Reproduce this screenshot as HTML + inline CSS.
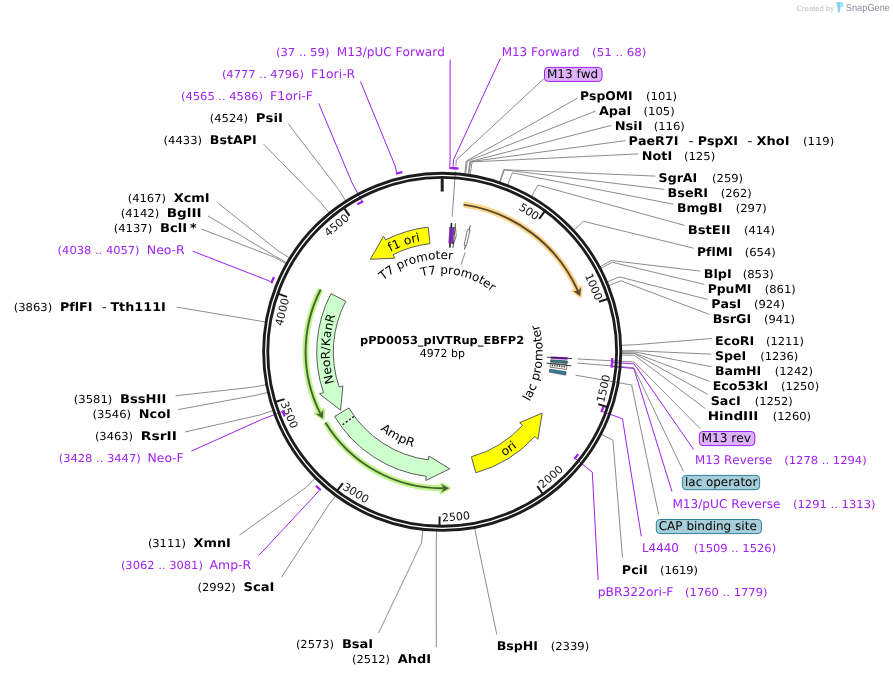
<!DOCTYPE html>
<html lang="en"><head><meta charset="utf-8"><title>pPD0053_pIVTRup_EBFP2 map</title>
<style>html,body{margin:0;padding:0;background:#fff;overflow:hidden}svg{display:block;will-change:transform;font-variant-ligatures:none;font-kerning:none}</style>
</head><body>
<svg width="894" height="677" viewBox="0 0 894 677" font-family="'DejaVu Sans', Verdana, 'Liberation Sans', sans-serif" text-rendering="geometricPrecision">
<rect width="894" height="677" fill="#fff"/>
<path d="M464.52 175.3 L466.32 161.07 L577.75 98 M465.41 175.42 L467.28 161.19 L595.6 111.1 M467.86 175.76 L469.93 161.56 L611.4 125.4 M468.53 175.86 L470.65 161.67 L625.5 140.6 M469.86 176.06 L472.09 161.89 L638.4 153.9 M499.09 183.24 L503.68 169.64 L655.4 176.1 M499.73 183.46 L504.37 169.88 L664.3 189.4 M507.12 186.16 L512.35 172.8 L673.3 204.2 M530.82 197.54 L537.96 185.09 L684.6 225.4 M572.86 231.05 L583.4 221.3 L693.6 248.2 M598.81 267.36 L611.44 260.54 L700.2 271.1 M599.66 268.95 L612.36 262.26 L704.4 284.4 M606.06 282.46 L619.28 276.86 L707.5 299.4 M607.56 286.1 L620.89 280.79 L709.5 314.5 M620.03 345.33 L634.37 344.8 L711.5 338.5 M620.15 350.79 L634.5 350.71 L711.5 354.2 M620.15 351.89 L634.5 351.9 L711.5 366.8 M620.15 353 L634.5 353.09 L709.5 381.3 M620.14 353.47 L634.49 353.6 L707.5 394.3 M620.12 355.04 L634.47 355.3 L705.3 408.6 M600.23 433.66 L612.97 440.25 L622.5 557.8 M474.51 526.84 L477.12 540.95 L496.8 634.4 M346.47 201.85 L338.75 189.75 L288 123.4 M329.89 213.82 L320.83 202.69 L263.7 144.2 M290.64 258.59 L278.42 251.07 L218 203.1 M287.77 263.43 L275.32 256.3 L208 215.9 M287.22 264.4 L274.72 257.35 L201.5 229 M266.74 322.19 L252.59 319.8 L176.6 307.1 M267.27 384.5 L253.16 387.13 L175.6 395.8 M268.88 392.2 L254.91 395.45 L178.1 409.6 M274.06 410.12 L260.5 414.82 L184.9 432 M316.05 477.36 L305.88 487.48 L239.5 535.1 M336.28 494.84 L327.74 506.37 L281.4 577.4 M423.01 528.76 L421.46 543.03 L378.5 633.1 M436.69 529.71 L436.25 544.06 L436.3 647 M543.6 78.9 L456.28 160.07 L455.86 165.75 M455.45 171.34 L452.12 216.71 M700.4 428.9 L634.24 361.93 L577.51 358.95 M683.4 471.3 L633.84 367.75 L577.24 363.05 M658.6 514.4 L631.63 384.98 L575.67 375.19 M465.2 252.3 L461 264.9" fill="none" stroke="#7f7f7f" stroke-width="0.9"/>
<path d="M453.07 166.77 L453.47 159.88 L500.4 58.4 M613.07 362.55 L634.12 363.87 L693.7 449.6 M612.76 366.65 L633.78 368.48 L672 491.6 M602.68 411.48 L622.46 418.82 L641.3 536.4 M575.81 458.89 L592.28 472.09 L598.1 579.9 M449.79 166.61 L450.07 159.71 L450.1 59.6 M396.63 172.14 L394.94 165.45 L360.5 81.5 M361.68 200.77 L351.75 182.15 L318.7 103.3 M270.62 281.6 L264.24 278.99 L192.5 251.1 M281.87 411.88 L262.11 419.28 L191.4 451.1 M319.12 490.5 L314.53 495.66 L259 555.3" fill="none" stroke="#a020f0" stroke-width="1"/>
<circle cx="442.2" cy="351.85" r="178.58" fill="none" stroke="#1c1c1c" stroke-width="2.85"/>
<circle cx="442.2" cy="351.85" r="174.42" fill="none" stroke="#1c1c1c" stroke-width="2.85"/>
<path d="M544.47 211.57 L539.17 218.84 M607.58 299.06 L599.01 301.8 M606.83 406.93 L598.29 404.08 M542.51 493.54 L537.31 486.19 M439.46 525.43 L439.6 516.43 M337.46 490.3 L342.89 483.12 M275.91 401.71 L284.53 399.12 M278.57 293.86 L287.05 296.87 M344.41 208.41 L349.48 215.85" stroke="#1c1c1c" stroke-width="2" fill="none"/>
<path d="M442.2 178.25 L442.2 191.55" stroke="#202020" stroke-width="3" fill="none"/>
<text transform="translate(529.24 211.44) rotate(31.79)" x="-10.5" y="4" font-size="11" fill="#111" textLength="21" lengthAdjust="spacingAndGlyphs">500</text>
<text transform="translate(594.02 286.72) rotate(66.78)" x="-14" y="4" font-size="11" fill="#111" textLength="28" lengthAdjust="spacingAndGlyphs">1000</text>
<text transform="translate(603.29 388.48) rotate(282.81)" x="-14" y="4" font-size="11" fill="#111" textLength="28" lengthAdjust="spacingAndGlyphs">1500</text>
<text transform="translate(550.55 476.56) rotate(319.01)" x="-14" y="4" font-size="11" fill="#111" textLength="28" lengthAdjust="spacingAndGlyphs">2000</text>
<text transform="translate(455.97 516.47) rotate(355.22)" x="-14" y="4" font-size="11" fill="#111" textLength="28" lengthAdjust="spacingAndGlyphs">2500</text>
<text transform="translate(356.08 492.83) rotate(391.42)" x="-14" y="4" font-size="11" fill="#111" textLength="28" lengthAdjust="spacingAndGlyphs">3000</text>
<text transform="translate(289.44 414.74) rotate(427.62)" x="-14" y="4" font-size="11" fill="#111" textLength="28" lengthAdjust="spacingAndGlyphs">3500</text>
<text transform="translate(281.91 311.89) rotate(284)" x="-14" y="4" font-size="11" fill="#111" textLength="28" lengthAdjust="spacingAndGlyphs">4000</text>
<text transform="translate(336.46 224.93) rotate(320.2)" x="-14" y="4" font-size="11" fill="#111" textLength="28" lengthAdjust="spacingAndGlyphs">4500</text>
<path d="M452.61 168.04 A184.1 184.1 0 0 1 458.75 168.5" fill="none" stroke="#a020f0" stroke-width="2.25"/>
<path d="M612.29 357.95 A170.2 170.2 0 0 1 611.99 363.59" fill="none" stroke="#a020f0" stroke-width="2.25"/>
<path d="M612.17 360.75 A170.2 170.2 0 0 1 611.66 367.66" fill="none" stroke="#a020f0" stroke-width="2.25"/>
<path d="M603.34 406.65 A170.2 170.2 0 0 1 601.36 412.16" fill="none" stroke="#a020f0" stroke-width="2.25"/>
<path d="M578.21 454.17 A170.2 170.2 0 0 1 574.34 459.12" fill="none" stroke="#a020f0" stroke-width="2.25"/>
<path d="M449.36 167.89 A184.1 184.1 0 0 1 456.66 168.32" fill="none" stroke="#a020f0" stroke-width="2.25"/>
<path d="M395.89 173.67 A184.1 184.1 0 0 1 402.32 172.12" fill="none" stroke="#a020f0" stroke-width="2.25"/>
<path d="M357.23 204.38 A170.2 170.2 0 0 1 363.12 201.14" fill="none" stroke="#a020f0" stroke-width="2.25"/>
<path d="M271.41 283.12 A184.1 184.1 0 0 1 273.99 277.02" fill="none" stroke="#a020f0" stroke-width="2.25"/>
<path d="M284.7 416.36 A170.2 170.2 0 0 1 282.42 410.5" fill="none" stroke="#a020f0" stroke-width="2.25"/>
<path d="M320.8 490.25 A184.1 184.1 0 0 1 315.91 485.8" fill="none" stroke="#a020f0" stroke-width="2.25"/>
<path d="M430.06 243.63 A108.9 108.9 0 0 0 393 254.7 L394.76 258.18 L370.35 259.26 L383.6 236.14 L385.5 239.89 A125.5 125.5 0 0 1 428.21 227.13 Z" fill="#ffff00" stroke="#5c5c5c" stroke-width="1" stroke-linejoin="miter"/>
<path d="M471.38 456.77 A108.9 108.9 0 0 0 522.58 425.32 L519.7 422.69 L542.15 413.05 L537.93 439.36 L534.83 436.52 A125.5 125.5 0 0 1 475.82 472.76 Z" fill="#ffff00" stroke="#5c5c5c" stroke-width="1" stroke-linejoin="miter"/>
<path d="M345.74 301.31 A108.9 108.9 0 0 0 339.18 387.14 L342.87 385.88 L340.56 410.2 L319.5 393.88 L323.47 392.52 A125.5 125.5 0 0 1 331.03 293.61 Z" fill="#ccffcc" stroke="#5c5c5c" stroke-width="1" stroke-linejoin="miter"/>
<path d="M348.88 407.99 A108.9 108.9 0 0 0 428.42 459.87 L428.91 456.01 L449.72 468.81 L425.79 480.51 L426.32 476.34 A125.5 125.5 0 0 1 334.66 416.54 Z" fill="#ccffcc" stroke="#5c5c5c" stroke-width="1" stroke-linejoin="miter"/>
<path d="M353.84 416.52 L341.41 425.62" stroke="#fff" stroke-width="1.3" fill="none"/>
<path d="M354 416.4 L341.25 425.73" stroke="#000" stroke-width="1.3" stroke-dasharray="2.1 1.9" fill="none"/>
<path d="M463.53 204.59 A148.8 148.8 0 0 1 578.02 291.08" fill="none" stroke="#fdd58c" stroke-width="6.0"/>
<path d="M580.21 296.23 L581.01 287.26 L578.02 291.08 L573.21 290.89 Z" fill="#fdd58c" stroke="#fdd58c" stroke-width="3.4" stroke-linejoin="round"/>
<path d="M463.53 204.59 A148.8 148.8 0 0 1 578.02 291.08" fill="none" stroke="#5b4a2c" stroke-width="1.9"/>
<path d="M580.21 296.23 L581.01 287.26 L578.02 291.08 L573.21 290.89 Z" fill="#5b4a2c" stroke="none"/>
<path d="M320.68 289.45 A136.6 136.6 0 0 0 320.41 413.72" fill="none" stroke="#bdf58a" stroke-width="6.0"/>
<path d="M323.05 418.66 L315.57 413.63 L320.41 413.72 L323.3 409.86 Z" fill="#bdf58a" stroke="#bdf58a" stroke-width="3.4" stroke-linejoin="round"/>
<path d="M320.68 289.45 A136.6 136.6 0 0 0 320.41 413.72" fill="none" stroke="#4c6130" stroke-width="1.9"/>
<path d="M323.05 418.66 L315.57 413.63 L320.41 413.72 L323.3 409.86 Z" fill="#4c6130" stroke="none"/>
<path d="M325.46 422.49 A136.45 136.45 0 0 0 443.51 488.29" fill="none" stroke="#bdf58a" stroke-width="6.0"/>
<path d="M449.1 488.13 L441.28 492.6 L443.51 488.29 L441.33 484 Z" fill="#bdf58a" stroke="#bdf58a" stroke-width="3.4" stroke-linejoin="round"/>
<path d="M325.46 422.49 A136.45 136.45 0 0 0 443.51 488.29" fill="none" stroke="#4c6130" stroke-width="1.9"/>
<path d="M449.1 488.13 L441.28 492.6 L443.51 488.29 L441.33 484 Z" fill="#4c6130" stroke="none"/>
<path d="M452.25 243.52 L453.76 243.67 L456.24 235.8 L455.48 227.56 L453.75 227.38 Z" fill="#fff" stroke="#444" stroke-width="0.7"/>
<path d="M452.98 247.91 L455.53 223.34" stroke="#222" stroke-width="0.8" fill="none"/>
<path d="M448.75 243.25 A108.8 108.8 0 0 1 452.44 243.53 L453.96 227.4 A125 125 0 0 0 449.72 227.08 Z" fill="#8d22d8" stroke="#3a3a3a" stroke-width="0.5"/>
<path d="M451.2 227.58 L451.53 222.99" stroke="#222" stroke-width="1.6" fill="none"/>
<path d="M449.8 247.63 L450.12 243.24" stroke="#222" stroke-width="1.6" fill="none"/>
<path d="M450.1 243.24 L451.24 227.58" stroke="#4b1a78" stroke-width="0.5" fill="none"/>
<path d="M470.3 225.4 L464.5 249.4" stroke="#222" stroke-width="0.8" fill="none"/>
<path d="M464.17 245.29 A108.8 108.8 0 0 1 466.4 245.77 L470 229.98 A125 125 0 0 0 467.44 229.43 Z" fill="#fff" stroke="#444" stroke-width="0.7"/>
<path d="M551 356.46 A108.9 108.9 0 0 1 550.89 358.66 L567.45 359.7 A125.5 125.5 0 0 0 567.59 357.16 Z" fill="#8c1fd6" stroke="none" stroke-width="0.8"/>
<path d="M550.81 359.76 A108.9 108.9 0 0 1 550.63 361.95 L567.16 363.49 A125.5 125.5 0 0 0 567.37 360.96 Z" fill="#31849b" stroke="#222" stroke-width="0.6"/>
<path d="M550.52 363.05 A108.9 108.9 0 0 1 550.02 367.14 L566.46 369.48 A125.5 125.5 0 0 0 567.03 364.75 Z" fill="#fff" stroke="#222" stroke-width="0.6"/>
<path d="M551.78 365.28 L565.28 366.93" stroke="#333" stroke-width="1.6" stroke-dasharray="1.2 1.2" fill="none"/>
<path d="M549.71 369.18 A108.9 108.9 0 0 1 549.21 372.03 L565.53 375.11 A125.5 125.5 0 0 0 566.1 371.83 Z" fill="#31849b" stroke="#222" stroke-width="0.6"/>
<path d="M546.96 357.22 L572.03 358.5" stroke="#222" stroke-width="0.9" fill="none"/>
<path d="M546.49 363.16 L571.44 365.87" stroke="#222" stroke-width="0.9" fill="none"/>
<defs><path id="cp1" d="M390.29 251.7 A112.8 112.8 0 0 1 436.02 239.22"/><path id="cp2" d="M503.87 456.42 A121.4 121.4 0 0 0 529.92 435.77"/><path id="cp3" d="M333.98 382.94 A112.6 112.6 0 0 1 341.72 301.03"/><path id="cp4" d="M380.03 429.66 A99.6 99.6 0 0 0 426.53 450.21"/><path id="cp5" d="M529.39 401.64 A100.4 100.4 0 0 0 533.97 311.13"/><path id="cp6" d="M383.08 280.45 A92.7 92.7 0 0 1 465.29 262.07"/><path id="cp7" d="M421.67 276.6 A78 78 0 0 1 499.67 299.12"/></defs>
<text font-size="12"><textPath href="#cp1" startOffset="0" textLength="32" lengthAdjust="spacingAndGlyphs">f1 ori</textPath></text>
<text font-size="12"><textPath href="#cp2" startOffset="0" textLength="16.4" lengthAdjust="spacingAndGlyphs">ori</textPath></text>
<text font-size="12"><textPath href="#cp3" startOffset="0" textLength="68.5" lengthAdjust="spacingAndGlyphs">NeoR/KanR</textPath></text>
<text font-size="12"><textPath href="#cp4" startOffset="0" textLength="37.5" lengthAdjust="spacingAndGlyphs">AmpR</textPath></text>
<text font-size="12"><textPath href="#cp5" startOffset="0" textLength="80" lengthAdjust="spacingAndGlyphs">lac promoter</textPath></text>
<text font-size="12"><textPath href="#cp6" startOffset="0" textLength="74.5" lengthAdjust="spacingAndGlyphs">T7 promoter</textPath></text>
<text font-size="12"><textPath href="#cp7" startOffset="0" textLength="74.5" lengthAdjust="spacingAndGlyphs">T7 promoter</textPath></text>
<text x="442.1" y="344.1" font-size="11" font-weight="bold" text-anchor="middle" textLength="164.2" lengthAdjust="spacingAndGlyphs">pPD0053_pIVTRup_EBFP2</text>
<text x="442.3" y="356.9" font-size="11" text-anchor="middle" textLength="45.2" lengthAdjust="spacingAndGlyphs">4972 bp</text>
<text x="580" y="99.8" font-size="12" font-weight="bold" textLength="52.6" lengthAdjust="spacingAndGlyphs">PspOMI</text>
<text x="646.1" y="99.8" font-size="11" textLength="31" lengthAdjust="spacingAndGlyphs">(101)</text>
<text x="598.9" y="114.8" font-size="12" font-weight="bold" textLength="32.5" lengthAdjust="spacingAndGlyphs">ApaI</text>
<text x="643.6" y="114.8" font-size="11" textLength="31.1" lengthAdjust="spacingAndGlyphs">(105)</text>
<text x="614.7" y="129.8" font-size="12" font-weight="bold" textLength="28" lengthAdjust="spacingAndGlyphs">NsiI</text>
<text x="653.7" y="129.8" font-size="11" textLength="31.2" lengthAdjust="spacingAndGlyphs">(116)</text>
<text x="628.6" y="144.8" font-size="12" font-weight="bold" textLength="49.9" lengthAdjust="spacingAndGlyphs">PaeR7I</text>
<text x="688.6" y="144.8" font-size="12" textLength="5.2" lengthAdjust="spacingAndGlyphs">-</text>
<text x="697.7" y="144.8" font-size="12" font-weight="bold" textLength="40.3" lengthAdjust="spacingAndGlyphs">PspXI</text>
<text x="747.2" y="144.8" font-size="12" textLength="5.2" lengthAdjust="spacingAndGlyphs">-</text>
<text x="756.5" y="144.8" font-size="12" font-weight="bold" textLength="33" lengthAdjust="spacingAndGlyphs">XhoI</text>
<text x="803" y="144.8" font-size="11" textLength="31.2" lengthAdjust="spacingAndGlyphs">(119)</text>
<text x="641.8" y="159.8" font-size="12" font-weight="bold" textLength="30.4" lengthAdjust="spacingAndGlyphs">NotI</text>
<text x="683.9" y="159.8" font-size="11" textLength="31.3" lengthAdjust="spacingAndGlyphs">(125)</text>
<text x="658.6" y="181.8" font-size="12" font-weight="bold" textLength="38.7" lengthAdjust="spacingAndGlyphs">SgrAI</text>
<text x="712.1" y="181.8" font-size="11" textLength="31" lengthAdjust="spacingAndGlyphs">(259)</text>
<text x="667.6" y="196.8" font-size="12" font-weight="bold" textLength="40.5" lengthAdjust="spacingAndGlyphs">BseRI</text>
<text x="720.8" y="196.8" font-size="11" textLength="31" lengthAdjust="spacingAndGlyphs">(262)</text>
<text x="676.9" y="211.8" font-size="12" font-weight="bold" textLength="45.5" lengthAdjust="spacingAndGlyphs">BmgBI</text>
<text x="735.7" y="211.8" font-size="11" textLength="31.2" lengthAdjust="spacingAndGlyphs">(297)</text>
<text x="687.7" y="233.8" font-size="12" font-weight="bold" textLength="43" lengthAdjust="spacingAndGlyphs">BstEII</text>
<text x="743.9" y="233.8" font-size="11" textLength="31" lengthAdjust="spacingAndGlyphs">(414)</text>
<text x="697" y="255.8" font-size="12" font-weight="bold" textLength="35.5" lengthAdjust="spacingAndGlyphs">PflMI</text>
<text x="744.7" y="255.8" font-size="11" textLength="31.2" lengthAdjust="spacingAndGlyphs">(654)</text>
<text x="703.7" y="277.7" font-size="12" font-weight="bold" textLength="28" lengthAdjust="spacingAndGlyphs">BlpI</text>
<text x="742.7" y="277.7" font-size="11" textLength="31.2" lengthAdjust="spacingAndGlyphs">(853)</text>
<text x="707.7" y="292.7" font-size="12" font-weight="bold" textLength="43.6" lengthAdjust="spacingAndGlyphs">PpuMI</text>
<text x="764.8" y="292.7" font-size="11" textLength="30.9" lengthAdjust="spacingAndGlyphs">(861)</text>
<text x="711.2" y="307.7" font-size="12" font-weight="bold" textLength="30" lengthAdjust="spacingAndGlyphs">PasI</text>
<text x="753.9" y="307.7" font-size="11" textLength="31" lengthAdjust="spacingAndGlyphs">(924)</text>
<text x="712.7" y="322.7" font-size="12" font-weight="bold" textLength="38.5" lengthAdjust="spacingAndGlyphs">BsrGI</text>
<text x="764" y="322.7" font-size="11" textLength="31" lengthAdjust="spacingAndGlyphs">(941)</text>
<text x="715" y="344.8" font-size="12" font-weight="bold" textLength="39.3" lengthAdjust="spacingAndGlyphs">EcoRI</text>
<text x="766" y="344.8" font-size="11" textLength="38" lengthAdjust="spacingAndGlyphs">(1211)</text>
<text x="715" y="359.8" font-size="12" font-weight="bold" textLength="31.2" lengthAdjust="spacingAndGlyphs">SpeI</text>
<text x="760.2" y="359.8" font-size="11" textLength="38" lengthAdjust="spacingAndGlyphs">(1236)</text>
<text x="715" y="374.8" font-size="12" font-weight="bold" textLength="46.3" lengthAdjust="spacingAndGlyphs">BamHI</text>
<text x="774.8" y="374.8" font-size="11" textLength="38.3" lengthAdjust="spacingAndGlyphs">(1242)</text>
<text x="712.7" y="389.8" font-size="12" font-weight="bold" textLength="55.4" lengthAdjust="spacingAndGlyphs">Eco53kI</text>
<text x="781.1" y="389.8" font-size="11" textLength="38" lengthAdjust="spacingAndGlyphs">(1250)</text>
<text x="710.7" y="404.8" font-size="12" font-weight="bold" textLength="30" lengthAdjust="spacingAndGlyphs">SacI</text>
<text x="754.7" y="404.8" font-size="11" textLength="38" lengthAdjust="spacingAndGlyphs">(1252)</text>
<text x="707.7" y="419.9" font-size="12" font-weight="bold" textLength="50.6" lengthAdjust="spacingAndGlyphs">HindIII</text>
<text x="772.8" y="419.9" font-size="11" textLength="38.3" lengthAdjust="spacingAndGlyphs">(1260)</text>
<text x="621.8" y="574.1" font-size="12" font-weight="bold" textLength="26" lengthAdjust="spacingAndGlyphs">PciI</text>
<text x="660" y="574.1" font-size="11" textLength="38" lengthAdjust="spacingAndGlyphs">(1619)</text>
<text x="496.7" y="650" font-size="12" font-weight="bold" textLength="41.3" lengthAdjust="spacingAndGlyphs">BspHI</text>
<text x="550.7" y="650" font-size="11" textLength="38.5" lengthAdjust="spacingAndGlyphs">(2339)</text>
<text x="209.8" y="121.8" font-size="11" textLength="38.3" lengthAdjust="spacingAndGlyphs">(4524)</text>
<text x="255.8" y="121.8" font-size="12" font-weight="bold" textLength="27.2" lengthAdjust="spacingAndGlyphs">PsiI</text>
<text x="163.6" y="143.8" font-size="11" textLength="38.5" lengthAdjust="spacingAndGlyphs">(4433)</text>
<text x="209.8" y="143.8" font-size="12" font-weight="bold" textLength="46.8" lengthAdjust="spacingAndGlyphs">BstAPI</text>
<text x="127.7" y="202.1" font-size="11" textLength="38.3" lengthAdjust="spacingAndGlyphs">(4167)</text>
<text x="173.7" y="202.1" font-size="12" font-weight="bold" textLength="36" lengthAdjust="spacingAndGlyphs">XcmI</text>
<text x="120.7" y="217.1" font-size="11" textLength="38.5" lengthAdjust="spacingAndGlyphs">(4142)</text>
<text x="166.7" y="217.1" font-size="12" font-weight="bold" textLength="35" lengthAdjust="spacingAndGlyphs">BglII</text>
<text x="113.7" y="232.1" font-size="11" textLength="38.5" lengthAdjust="spacingAndGlyphs">(4137)</text>
<text x="159.9" y="232.1" font-size="12" font-weight="bold" textLength="27.2" lengthAdjust="spacingAndGlyphs">BclI</text>
<text x="189.9" y="232.1" font-size="12" font-weight="bold" textLength="6.6" lengthAdjust="spacingAndGlyphs">*</text>
<text x="13.7" y="311.1" font-size="11" textLength="38.5" lengthAdjust="spacingAndGlyphs">(3863)</text>
<text x="59.9" y="311.1" font-size="12" font-weight="bold" textLength="32.5" lengthAdjust="spacingAndGlyphs">PflFI</text>
<text x="101.9" y="311.1" font-size="12" textLength="4.6" lengthAdjust="spacingAndGlyphs">-</text>
<text x="110.4" y="311.1" font-size="12" font-weight="bold" textLength="55.4" lengthAdjust="spacingAndGlyphs">Tth111I</text>
<text x="73.8" y="403.1" font-size="11" textLength="38.5" lengthAdjust="spacingAndGlyphs">(3581)</text>
<text x="120" y="403.1" font-size="12" font-weight="bold" textLength="46.3" lengthAdjust="spacingAndGlyphs">BssHII</text>
<text x="92.6" y="418.2" font-size="11" textLength="38.5" lengthAdjust="spacingAndGlyphs">(3546)</text>
<text x="138.8" y="418.2" font-size="12" font-weight="bold" textLength="32" lengthAdjust="spacingAndGlyphs">NcoI</text>
<text x="94.9" y="440.3" font-size="11" textLength="38.2" lengthAdjust="spacingAndGlyphs">(3463)</text>
<text x="140.8" y="440.3" font-size="12" font-weight="bold" textLength="36" lengthAdjust="spacingAndGlyphs">RsrII</text>
<text x="147.9" y="547" font-size="11" textLength="38" lengthAdjust="spacingAndGlyphs">(3111)</text>
<text x="193.6" y="547" font-size="12" font-weight="bold" textLength="37.3" lengthAdjust="spacingAndGlyphs">XmnI</text>
<text x="197.5" y="591" font-size="11" textLength="38.3" lengthAdjust="spacingAndGlyphs">(2992)</text>
<text x="243.5" y="591" font-size="12" font-weight="bold" textLength="31" lengthAdjust="spacingAndGlyphs">ScaI</text>
<text x="295.9" y="647.7" font-size="11" textLength="38.1" lengthAdjust="spacingAndGlyphs">(2573)</text>
<text x="341.9" y="647.7" font-size="12" font-weight="bold" textLength="31.3" lengthAdjust="spacingAndGlyphs">BsaI</text>
<text x="352" y="662.8" font-size="11" textLength="38" lengthAdjust="spacingAndGlyphs">(2512)</text>
<text x="397.7" y="662.8" font-size="12" font-weight="bold" textLength="33.3" lengthAdjust="spacingAndGlyphs">AhdI</text>
<text x="501.7" y="55.8" font-size="12" fill="#a020f0" textLength="78" lengthAdjust="spacingAndGlyphs">M13 Forward</text>
<text x="592.1" y="55.8" font-size="11" fill="#a020f0" textLength="54.4" lengthAdjust="spacingAndGlyphs">(51 .. 68)</text>
<text x="695" y="463.9" font-size="12" fill="#a020f0" textLength="77.3" lengthAdjust="spacingAndGlyphs">M13 Reverse</text>
<text x="784.2" y="463.9" font-size="11" fill="#a020f0" textLength="82.5" lengthAdjust="spacingAndGlyphs">(1278 .. 1294)</text>
<text x="672.4" y="507.9" font-size="12" fill="#a020f0" textLength="108.1" lengthAdjust="spacingAndGlyphs">M13/pUC Reverse</text>
<text x="793" y="507.9" font-size="11" fill="#a020f0" textLength="82.5" lengthAdjust="spacingAndGlyphs">(1291 .. 1313)</text>
<text x="641.9" y="552" font-size="12" fill="#a020f0" textLength="37.1" lengthAdjust="spacingAndGlyphs">L4440</text>
<text x="693.8" y="552" font-size="11" fill="#a020f0" textLength="82.4" lengthAdjust="spacingAndGlyphs">(1509 .. 1526)</text>
<text x="597.7" y="596.2" font-size="12" fill="#a020f0" textLength="75.7" lengthAdjust="spacingAndGlyphs">pBR322ori-F</text>
<text x="685.1" y="596.2" font-size="11" fill="#a020f0" textLength="82.4" lengthAdjust="spacingAndGlyphs">(1760 .. 1779)</text>
<text x="275.9" y="55.7" font-size="11" fill="#a020f0" textLength="53.6" lengthAdjust="spacingAndGlyphs">(37 .. 59)</text>
<text x="336.8" y="55.7" font-size="12" fill="#a020f0" textLength="108.1" lengthAdjust="spacingAndGlyphs">M13/pUC Forward</text>
<text x="221.9" y="77.7" font-size="11" fill="#a020f0" textLength="82" lengthAdjust="spacingAndGlyphs">(4777 .. 4796)</text>
<text x="311.1" y="77.7" font-size="12" fill="#a020f0" textLength="44.1" lengthAdjust="spacingAndGlyphs">F1ori-R</text>
<text x="181" y="99.8" font-size="11" fill="#a020f0" textLength="82" lengthAdjust="spacingAndGlyphs">(4565 .. 4586)</text>
<text x="270.1" y="99.8" font-size="12" fill="#a020f0" textLength="42.9" lengthAdjust="spacingAndGlyphs">F1ori-F</text>
<text x="57.6" y="254.1" font-size="11" fill="#a020f0" textLength="82" lengthAdjust="spacingAndGlyphs">(4038 .. 4057)</text>
<text x="146.8" y="254.1" font-size="12" fill="#a020f0" textLength="37.9" lengthAdjust="spacingAndGlyphs">Neo-R</text>
<text x="58.7" y="462.2" font-size="11" fill="#a020f0" textLength="82" lengthAdjust="spacingAndGlyphs">(3428 .. 3447)</text>
<text x="147.6" y="462.2" font-size="12" fill="#a020f0" textLength="36.1" lengthAdjust="spacingAndGlyphs">Neo-F</text>
<text x="120.9" y="569.1" font-size="11" fill="#a020f0" textLength="82" lengthAdjust="spacingAndGlyphs">(3062 .. 3081)</text>
<text x="209.6" y="569.1" font-size="12" fill="#a020f0" textLength="41.6" lengthAdjust="spacingAndGlyphs">Amp-R</text>
<rect x="544.5" y="67.4" width="57.5" height="14" rx="3.6" fill="#deb2fa" stroke="#a020f0" stroke-width="1"/>
<text x="546.9" y="77.6" font-size="12" textLength="51.3" lengthAdjust="spacingAndGlyphs">M13 fwd</text>
<rect x="699.3" y="431.5" width="55.5" height="14.1" rx="3.6" fill="#deb2fa" stroke="#a020f0" stroke-width="1"/>
<text x="701.4" y="441.8" font-size="12" textLength="49.7" lengthAdjust="spacingAndGlyphs">M13 rev</text>
<rect x="682.4" y="475.4" width="77.2" height="14.3" rx="3.6" fill="#a6cdd9" stroke="#2b8499" stroke-width="1"/>
<text x="685" y="485.9" font-size="12" textLength="72.3" lengthAdjust="spacingAndGlyphs">lac operator</text>
<rect x="656.3" y="519.5" width="105.2" height="14.1" rx="3.6" fill="#a6cdd9" stroke="#2b8499" stroke-width="1"/>
<text x="658.7" y="529.9" font-size="12" textLength="98.1" lengthAdjust="spacingAndGlyphs">CAP binding site</text>
<text x="796.6" y="10.5" font-size="7.6" fill="#bdbdbd" font-family="'Liberation Sans', Arial, sans-serif" textLength="37.4" lengthAdjust="spacingAndGlyphs">Created by</text>
<path d="M836.5 1.9 L840.9 1.9 L840.5 7.4 L839.7 12.4 L838.3 12.4 L837.2 7 Z" fill="#86d3f8"/>
<path d="M840.7 2 C843.4 1.5 843.9 4.4 843.1 5.9 C842.5 7 841.3 7.3 840.4 7.1 Z" fill="#a2ddfa"/>
<text x="845.8" y="10.5" font-size="10" fill="#858c97" font-family="'Liberation Sans', Arial, sans-serif" textLength="44.2" lengthAdjust="spacingAndGlyphs">SnapGene</text>
</svg>
</body></html>
